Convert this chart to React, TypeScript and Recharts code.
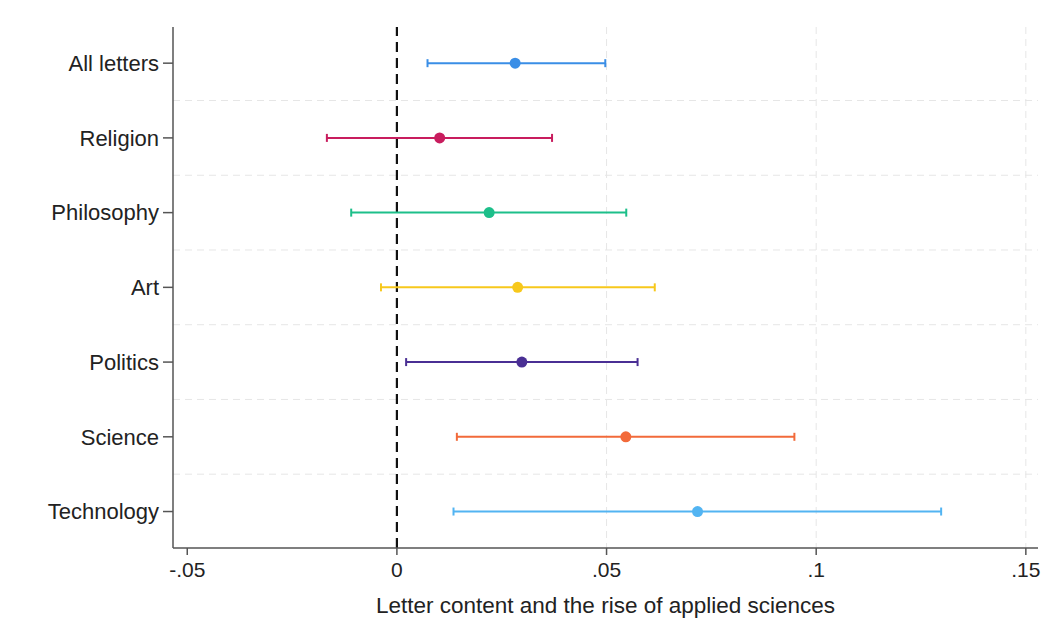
import {
  CartesianGrid,
  ComposedChart,
  ErrorBar,
  ReferenceLine,
  Scatter,
  XAxis,
  YAxis,
} from 'recharts';

const categories = ['All letters', 'Religion', 'Philosophy', 'Art', 'Politics', 'Science', 'Technology'];
const estimates = [0.0282, 0.0102, 0.022, 0.0288, 0.0298, 0.0546, 0.0717];
const lowerCI = [0.0073, -0.0167, -0.0109, -0.0038, 0.0022, 0.0143, 0.0135];
const upperCI = [0.0497, 0.037, 0.0547, 0.0615, 0.0574, 0.0948, 0.1298];
const xTicks = [-0.05, 0, 0.05, 0.1, 0.15];

const COLORS = ['#3a8ee6', '#c81d5e', '#1dbf8a', '#f7c81c', '#4a2f94', '#f26a3a', '#52b4f2'];

const FONT = '"Liberation Sans", Arial, Helvetica, sans-serif';

// one row per category, y is the row position (1 = top)
const rows = categories.map((name, i) => ({
  name,
  y: i + 1,
  x: estimates[i],
  err: [estimates[i] - lowerCI[i], upperCI[i] - estimates[i]],
}));

const fmtX = (v: number) => {
  if (v === 0) return '0';
  return String(v).replace('0.', '.');
};

export default function App() {
  return (
    <div style={{ position: 'absolute', left: 0, top: 0, width: 1050, height: 618, background: '#fff' }}>
      <ComposedChart width={1050} height={618} margin={{ top: 27, right: 12, bottom: 0, left: 0 }}>
        <CartesianGrid
          stroke="#e6e6e6"
          strokeDasharray="7 5"
          horizontalValues={[1.5, 2.5, 3.5, 4.5, 5.5, 6.5]}
          verticalValues={[0.05, 0.1, 0.15]}
        />
        <XAxis
          type="number"
          dataKey="x"
          domain={[-0.0534, 0.1529]}
          ticks={xTicks}
          tickFormatter={fmtX}
          height={70}
          tickSize={7}
          tickMargin={7}
          stroke="#555"
          strokeWidth={1.5}
          tick={{ fill: '#222', fontSize: 21, fontFamily: FONT }}
          label={{
            value: 'Letter content and the rise of applied sciences',
            position: 'insideBottom',
            offset: 5,
            fill: '#222',
            fontSize: 22.5,
            fontFamily: FONT,
          }}
        />
        <YAxis
          type="number"
          dataKey="y"
          domain={[0.516, 7.488]}
          reversed
          ticks={[1, 2, 3, 4, 5, 6, 7]}
          tickFormatter={(v: number) => categories[v - 1] ?? ''}
          width={173}
          tickSize={10}
          tickMargin={4}
          stroke="#555"
          strokeWidth={1.5}
          tick={{ fill: '#222', fontSize: 22, fontFamily: FONT }}
          interval={0}
        />
        <ReferenceLine x={0} stroke="#111" strokeWidth={2.2} strokeDasharray="10 6" />
        {rows.map((row, i) => (
          <Scatter
            key={row.name}
            name={row.name}
            data={[row]}
            fill={COLORS[i]}
            isAnimationActive={false}
            shape={(p: any) => <circle cx={p.cx} cy={p.cy} r={5.5} fill={COLORS[i]} />}
          >
            <ErrorBar dataKey="err" direction="x" width={4} stroke={COLORS[i]} strokeWidth={2} isAnimationActive={false} />
          </Scatter>
        ))}
      </ComposedChart>
    </div>
  );
}
